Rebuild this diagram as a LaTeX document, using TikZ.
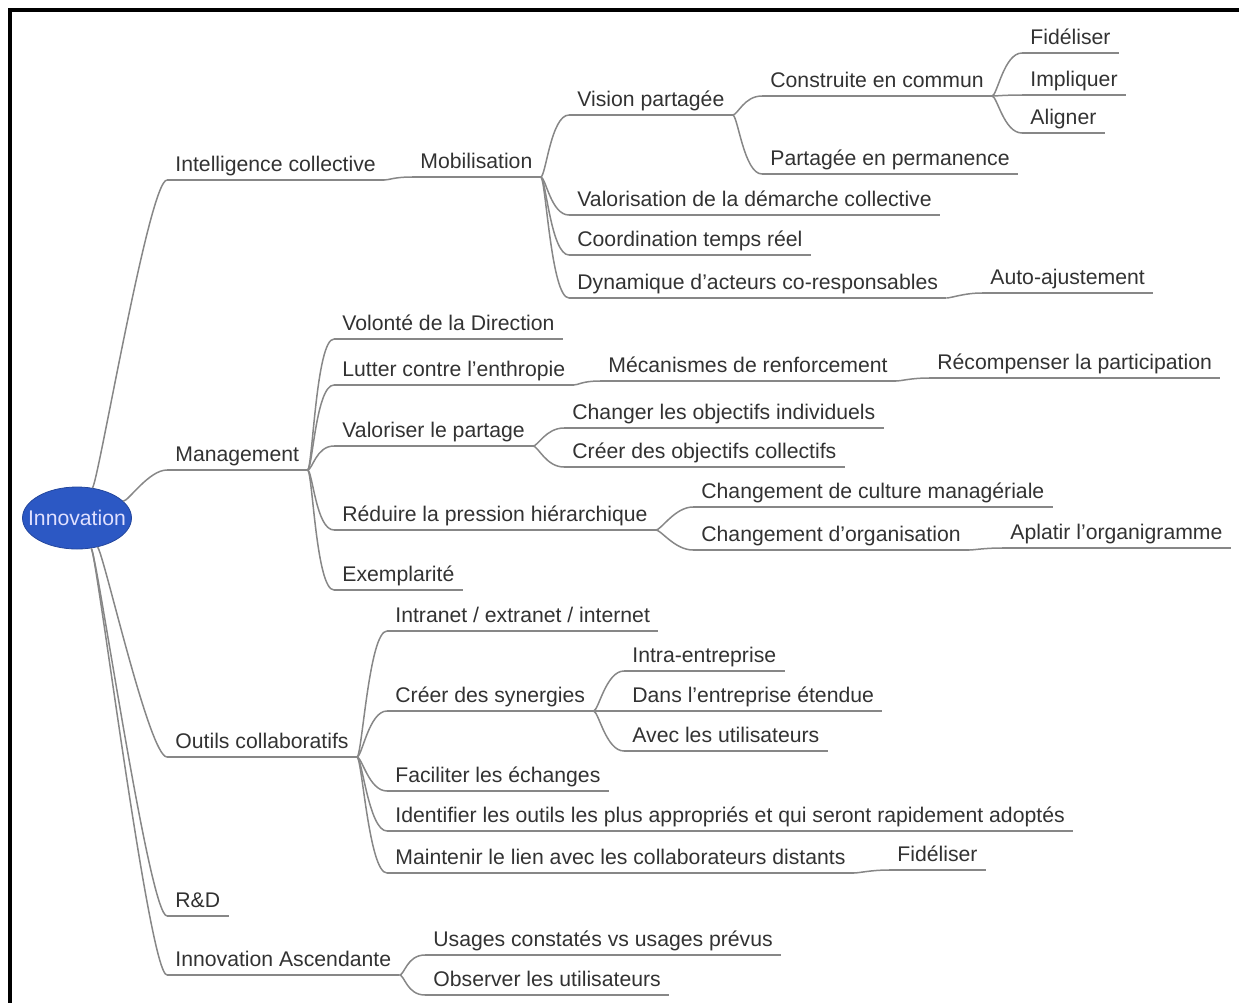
\documentclass[tikz,border=0pt]{standalone}
\usepackage{fontspec}
\setmainfont{Liberation Sans}
\usepackage{xcolor}
\usepackage{tikz}
\usetikzlibrary{shapes.geometric, calc}

\definecolor{txtgray}{RGB}{50,50,50}
\definecolor{linegray}{RGB}{135,135,135}
\definecolor{rootblue}{RGB}{44,88,196}
\newcommand{\mapfont}{\fontsize{10.6pt}{12pt}\selectfont}

\tikzset{
	topic/.style={anchor=south west, inner xsep=4pt, inner ysep=2pt, text depth=2pt, text=txtgray, font=\mapfont},
	uline/.style={draw=linegray, line width=0.75pt},
	branch/.style={draw=linegray, line width=0.75pt,
		to path={.. controls ($(\tikztostart)+(5,0)$) and ($(\tikztotarget)+(-18,0)$) .. (\tikztotarget)}},
}

\begin{document}
\begin{tikzpicture}[x=0.5pt, y=-0.5pt]
		\useasboundingbox (0,0) rectangle (1239,1003);
		\draw[line width=2pt] (10,1003) -- (10,10) -- (1239,10);

		% root
		\node[ellipse, fill=rootblue, draw=rootblue!80!black, inner sep=0pt, minimum width=54.5pt, minimum height=31pt, text=white!88!blue, font=\mapfont] (root) at (77,518) {\makebox[0pt]{Innovation}};

		% first level
		\node[topic] (ic) at (167,180) {Intelligence collective};
		\node[topic] (man) at (167,470) {Management};
		\node[topic] (out) at (167,757) {Outils collaboratifs};
		\node[topic] (rd) at (167,916) {R\&D};
		\node[topic] (ia) at (167,975) {Innovation Ascendante};

		% intelligence collective
		\node[topic] (mob) at (412,177) {Mobilisation};
		\node[topic] (vp) at (569,115) {Vision partagée};
		\node[topic] (vdc) at (569,215) {Valorisation de la démarche collective};
		\node[topic] (ctr) at (569,255) {Coordination temps réel};
		\node[topic] (dyn) at (569,298) {Dynamique d'acteurs co-responsables};
		\node[topic] (cec) at (762,96) {Construite en commun};
		\node[topic] (pep) at (762,174) {Partagée en permanence};
		\node[topic] (fid1) at (1022,53) {Fidéliser};
		\node[topic] (imp) at (1022,95) {Impliquer};
		\node[topic] (ali) at (1022,133) {Aligner};
		\node[topic] (auto) at (982,293) {Auto-ajustement};

		% management
		\node[topic] (vol) at (334,339) {Volonté de la Direction};
		\node[topic] (lut) at (334,385) {Lutter contre l'enthropie};
		\node[topic] (val) at (334,446) {Valoriser le partage};
		\node[topic] (red) at (334,530) {Réduire la pression hiérarchique};
		\node[topic] (exe) at (334,590) {Exemplarité};
		\node[topic] (meca) at (600,381) {Mécanismes de renforcement};
		\node[topic] (rec) at (929,378) {Récompenser la participation};
		\node[topic] (chg) at (564,428) {Changer les objectifs individuels};
		\node[topic] (cre) at (564,467) {Créer des objectifs collectifs};
		\node[topic] (ccm) at (693,507) {Changement de culture managériale};
		\node[topic] (cor) at (693,550) {Changement d'organisation};
		\node[topic] (apl) at (1002,548) {Aplatir l'organigramme};

		% outils collaboratifs
		\node[topic] (intr) at (387,631) {Intranet / extranet / internet};
		\node[topic] (syn) at (387,711) {Créer des synergies};
		\node[topic] (fac) at (387,791) {Faciliter les échanges};
		\node[topic] (idt) at (387,831) {Identifier les outils les plus appropriés et qui seront rapidement adoptés};
		\node[topic] (mnt) at (387,873) {Maintenir le lien avec les collaborateurs distants};
		\node[topic] (intra) at (624,671) {Intra-entreprise};
		\node[topic] (dans) at (624,711) {Dans l'entreprise étendue};
		\node[topic] (avec) at (624,751) {Avec les utilisateurs};
		\node[topic] (fid2) at (889,870) {Fidéliser};

		% innovation ascendante
		\node[topic] (usg) at (425,955) {Usages constatés vs usages prévus};
		\node[topic] (obs) at (425,995) {Observer les utilisateurs};

		% underlines
		\foreach \n in {ic,man,out,rd,ia,mob,vp,vdc,ctr,dyn,cec,pep,fid1,imp,ali,auto,
			vol,lut,val,red,exe,meca,rec,chg,cre,ccm,cor,apl,
			intr,syn,fac,idt,mnt,intra,dans,avec,fid2,usg,obs}
			\draw[uline] (\n.south west) -- (\n.south east);

		% branches from the root
		\foreach \a/\c in {63/ic, 20/man, -55/out, -65/rd, -65/ia}
			\draw[branch] (root.\a) to (\c.south west);

		% other branches
		\foreach \p/\c in {ic/mob, mob/vp, mob/vdc, mob/ctr, mob/dyn, vp/cec, vp/pep,
			cec/fid1, cec/imp, cec/ali, dyn/auto,
			man/vol, man/lut, man/val, man/red, man/exe, lut/meca, meca/rec,
			val/chg, val/cre, red/ccm, red/cor, cor/apl,
			out/intr, out/syn, out/fac, out/idt, out/mnt, syn/intra, syn/dans, syn/avec, mnt/fid2,
			ia/usg, ia/obs}
			\draw[branch] (\p.south east) to (\c.south west);

	\end{tikzpicture}
\end{document}
